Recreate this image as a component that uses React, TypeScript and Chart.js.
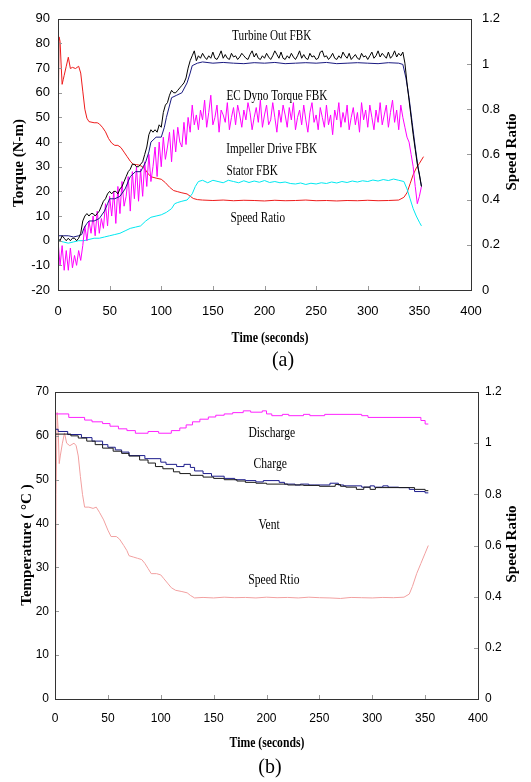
import React, { useEffect, useRef } from 'react';
import { Chart, registerables } from 'chart.js';
Chart.register(...registerables);

const SANS = "'Liberation Sans', Arial, sans-serif";
const SERIF = "'Liberation Serif', 'Times New Roman', serif";

// ---------------- Chart (a) data ----------------
const tFine = [0,2,4,6,8,10,12,14,16,18,20,22,24,26,28,30,32,34,36,38,40,42,44,46,48,50,52,54,56,58,60,62,64,66,68,70,72,74,76,78,80,82,84,86,88,90,92,94,96,98,100,102,104,106,108,110,112,114,116,118,120,122,124,126,128,130,132,134,136,138,140,142,144,146,148,150,152,154,156,158,160,162,164,166,168,170,172,174,176,178,180,182,184,186,188,190,192,194,196,198,200,202,204,206,208,210,212,214,216,218,220,222,224,226,228,230,232,234,236,238,240,242,244,246,248,250,252,254,256,258,260,262,264,266,268,270,272,274,276,278,280,282,284,286,288,290,292,294,296,298,300,302,304,306,308,310,312,314,316,318,320,322,324,326,328,330,332,334,336,338,340,342,344,346,348,350,352];

const turbineOut = [
  1, 0, 2, 1, 0, 1, 0, 1, 1, 0,
  1, 3, 8, 10, 11, 10, 11, 11, 10, 11,
  12, 14, 16, 17, 19, 20, 19, 20, 20, 19,
  21, 22, 24, 26, 28, 29, 31, 31, 30, 30,
  31, 32, 35, 38, 43, 45, 44, 45, 44, 47,
  46, 52, 55, 56, 59, 61, 60, 60, 61, 62,
  63, 64, 66, 70, 73, 75, 77, 73, 75, 74,
  76, 74.5, 73.5, 75, 74, 76.5, 74, 73.5, 75, 77,
  74, 75.5, 74, 73.5, 76, 74.5, 75, 73.5, 74.5, 76,
  75, 74, 73.5, 75.5, 77, 74.5, 76, 74, 73.5, 75,
  74, 76, 74.5, 73.5, 75, 77, 75.5, 74, 76.5, 74,
  73.5, 75, 74, 76, 74.5, 73.5, 75, 77, 74, 75.5,
  74, 73.5, 76, 74.5, 75, 73.5, 74, 76.5, 77, 74.5,
  75, 73.5, 74.5, 76, 74, 73.5, 75, 74, 76.5, 75,
  74, 76, 73.5, 74.5, 75.5, 74, 73.5, 76, 74.5, 75,
  73.5, 75, 76.5, 74, 75, 77, 74.5, 76, 75, 74,
  76.5, 74, 75, 77, 74.5, 76, 75, 76.5, 72, 64,
  57, 50, 43, 37, 31, 27, 22
];

const dynoTorque = [
  0, -10, -2, -12, -4, -12, -3, -11, -6, -10,
  -4, -8, -2, 6, 0, 8, 3, 10, 2, 12,
  3, 9, 5, 15, 6, 18, 10, 20, 7, 22,
  11, 24, 14, 18, 26, 12, 28, 17, 30, 16,
  29, 18, 32, 22, 35, 24, 30, 38, 26, 40,
  30, 42, 33, 38, 44, 32, 45, 36, 46, 40,
  38, 48, 39, 50, 44, 55, 47, 51, 45, 53,
  49, 57, 46, 52, 59, 47, 50, 55, 44, 53,
  51, 48, 56, 45, 50, 54, 47, 55, 51, 46,
  53, 49, 56, 52, 45, 50, 54, 48, 57, 46,
  51, 55, 47, 49, 56, 50, 44, 53, 48, 55,
  51, 46, 54, 49, 56, 45, 50, 53, 47, 55,
  49, 44, 52, 56, 48, 51, 45, 54, 50, 46,
  55, 47, 51, 43, 53, 49, 56, 46, 52, 48,
  55, 45, 50, 54, 47, 52, 44, 56, 49, 53,
  46, 55, 50, 45, 53, 48, 56, 47, 51, 55,
  46, 52, 57, 48, 53, 45, 55, 50, 46, 42,
  40, 35, 30, 22, 15, 18, 22
];

const tImpeller = [0,5,10,15,20,23,25,28,30,35,40,45,48,50,55,60,65,68,70,75,80,85,88,90,95,100,103,105,110,115,120,125,128,130,135,140,150,160,170,180,190,200,210,220,230,240,250,260,270,280,290,300,310,320,330,334,337,340,343,346,349,352];
const impellerDrive = [2,2,2,1.5,2,2.5,5,7,8,8,9,12,15,17,17,18,21,24,26,28,28,32,36,40,42,42,46,50,58,59,60,64,68,71,72,72.5,72,72.3,72,71.8,72.2,72,72.3,71.8,72,72.2,72,72.3,71.8,72,72.2,72,71.8,72.2,72,71.5,66,58,48,38,29,22];

const tStator = [0,5,10,15,20,25,30,35,40,45,50,55,60,65,70,75,80,85,90,95,100,105,110,113,116,120,125,130,133,136,140,145,150,155,160,165,170,175,180,185,190,195,200,205,210,215,220,225,230,235,240,245,250,255,260,265,270,275,280,285,290,295,300,305,310,315,320,325,330,335,338,341,344,347,350,352];
const statorFbk = [0,-0.5,-1,-0.5,0,0,0.5,1,1,1.5,2,2.5,3,4,5,5.5,6,8,9.5,10,10.5,11.5,13,15,15.5,16,16.5,19,22,24,24.5,23.5,24.5,24,23.5,24.5,24,23.5,24.3,23.6,24.2,23.7,24.4,23.6,24,23.5,23.8,23.2,23,23.4,22.8,23.3,23,23.5,23.2,23.8,23.4,24,23.6,24.2,23.8,24.3,24,24.6,24.2,24.8,24.4,25,24.5,24,21,17,13,10,7.5,6];

const tRatioA = [0,0.5,1,2,3,4,5,6,8,10,12,14,17,20,22,24,26,28,30,35,38,40,43,46,49,52,55,58,61,64,67,70,73,76,79,82,85,88,91,95,100,104,108,112,116,120,125,128,131,135,140,150,160,170,180,190,200,210,220,230,240,250,260,270,280,290,300,310,320,330,335,338,341,344,347,350,354];
const speedRatioA = [0,0.9,1.12,1.1,1.0,0.91,0.93,0.95,0.99,1.03,0.98,0.985,0.98,0.99,0.96,0.88,0.8,0.76,0.745,0.74,0.74,0.735,0.72,0.70,0.67,0.65,0.64,0.64,0.63,0.61,0.59,0.57,0.555,0.555,0.552,0.545,0.53,0.51,0.50,0.495,0.49,0.475,0.455,0.44,0.435,0.43,0.425,0.415,0.405,0.40,0.398,0.396,0.398,0.395,0.397,0.396,0.394,0.397,0.395,0.396,0.398,0.395,0.396,0.394,0.396,0.395,0.397,0.395,0.396,0.398,0.41,0.43,0.47,0.51,0.54,0.56,0.59];

// ---------------- Chart (b) data ----------------
const tDischarge = [0,13,28,35,45,52,60,68,76,88,98,110,118,124,130,137,145,152,160,168,178,185,196,200,205,215,221,235,241,255,290,296,346,350,353];
const discharge = [65.7,65.0,64.2,63.6,63.2,62.8,62.2,61.6,61.2,60.6,61.0,60.6,61.2,61.8,62.5,63.2,63.8,64.3,64.7,65.0,65.3,65.7,65.4,65.7,65.0,64.6,64.9,64.6,64.9,64.6,64.9,64.6,64.2,63.5,62.7];

const tCharge = [0,3,12,25,35,45,50,57,63,70,85,100,105,115,122,128,132,140,148,160,170,180,190,197,212,217,227,232,240,245,260,268,273,290,298,302,310,315,325,335,340,350,353];
const charge = [62.2,61.5,61.0,60.3,59.6,58.8,58.0,57.4,56.8,56.3,55.5,54.8,54.0,53.5,53.0,53.5,52.8,52.0,51.4,50.8,50.3,50.0,49.8,49.5,49.8,49.4,49.0,48.8,49.0,48.8,48.8,49.2,48.8,48.6,48.3,48.6,48.3,48.6,48.3,48.2,47.8,47.3,47.0];

const tVent = [0,15,22,30,38,45,55,63,70,80,88,95,102,112,118,128,140,150,160,172,180,190,200,220,235,250,265,270,275,285,292,298,303,310,340,350,353];
const vent = [60.8,60.4,60.0,59.5,58.8,58.0,57.2,56.5,56.0,55.4,54.5,53.8,53.0,52.5,51.8,51.4,51.0,50.6,50.3,50.0,49.7,49.4,49.2,49.0,48.8,48.7,48.5,48.9,48.5,48.3,47.8,48.3,47.8,48.2,48.2,47.8,47.5];

const tRatioB = [0,0.5,1,2,3,4,5,7,9,11,14,18,20,22,24,26,28,32,36,39,42,46,50,53,58,61,65,68,70,74,78,82,85,88,91,96,100,103,107,110,114,120,125,128,132,140,150,160,170,180,190,200,210,220,230,240,250,260,270,280,290,300,310,320,330,335,338,342,346,350,353];
const speedRatioB = [0,0.3,0.8,1.12,1.05,0.92,0.95,1.0,1.04,1.0,0.99,1.0,0.99,0.95,0.87,0.8,0.75,0.75,0.745,0.75,0.73,0.70,0.66,0.635,0.635,0.625,0.6,0.58,0.56,0.555,0.55,0.545,0.53,0.51,0.49,0.49,0.485,0.47,0.45,0.435,0.425,0.42,0.415,0.405,0.395,0.397,0.395,0.398,0.396,0.397,0.395,0.398,0.396,0.397,0.395,0.398,0.396,0.395,0.393,0.397,0.396,0.395,0.397,0.396,0.398,0.41,0.44,0.49,0.53,0.57,0.6];

// ---------------- axis ticks / labels ----------------
const timeTicks = { min: 0, max: 400, step: 50 };
const torqueTicks = { min: -20, max: 90, step: 10 };
const tempTicks = { min: 0, max: 70, step: 10 };
const ratioTicks = { min: 0, max: 1.2, step: 0.2 };

const notesA = [
  { text: 'Turbine Out FBK', x: 207, y: 82.9 },
  { text: 'EC Dyno Torque FBK', x: 212, y: 58.5 },
  { text: 'Impeller Drive FBK', x: 207, y: 37.0 },
  { text: 'Stator FBK', x: 188, y: 28.2 },
  { text: 'Speed Ratio', x: 193.5, y: 9.1 },
];
const notesB = [
  { text: 'Discharge', x: 205, y: 60.7 },
  { text: 'Charge', x: 203.5, y: 53.6 },
  { text: 'Vent', x: 202.5, y: 39.7 },
  { text: 'Speed Rtio', x: 207, y: 27.2 },
];

const pts = (xs: number[], ys: number[]) => xs.map((x, i) => ({ x, y: ys[i] }));

const decor = {
  id: 'decor',
  afterDraw(chart: any, _args: any, opts: any) {
    const { ctx, chartArea: a, scales } = chart;
    const sx = scales.x, sy = scales.y, sy1 = scales.y1;
    ctx.save();
    ctx.strokeStyle = '#999';
    ctx.lineWidth = 1;
    ctx.beginPath();
    sx.ticks.forEach((t: any) => {
      const p = Math.round(sx.getPixelForValue(t.value)) + 0.5;
      ctx.moveTo(p, a.bottom); ctx.lineTo(p, a.bottom - 4);
    });
    sy.ticks.forEach((t: any) => {
      const p = Math.round(sy.getPixelForValue(t.value)) + 0.5;
      ctx.moveTo(a.left, p); ctx.lineTo(a.left + 4, p);
    });
    sy1.ticks.forEach((t: any) => {
      const p = Math.round(sy1.getPixelForValue(t.value)) + 0.5;
      ctx.moveTo(a.right, p); ctx.lineTo(a.right - 4, p);
    });
    ctx.stroke();
    ctx.strokeStyle = '#333';
    ctx.strokeRect(Math.round(a.left) + 0.5, Math.round(a.top) + 0.5, Math.round(a.right - a.left), Math.round(a.bottom - a.top));

    ctx.fillStyle = '#000';
    ctx.textAlign = 'center';
    ctx.textBaseline = 'middle';
    for (const n of opts.notes) {
      ctx.save();
      ctx.translate(sx.getPixelForValue(n.x), sy.getPixelForValue(n.y));
      ctx.scale(0.8, 1);
      ctx.font = `${opts.noteSize}px ${SERIF}`;
      ctx.fillText(n.text, 0, 0);
      ctx.restore();
    }
    for (const t of opts.titles) {
      ctx.save();
      ctx.translate(t.x, t.y);
      if (t.rot) ctx.rotate(-Math.PI / 2);
      ctx.scale(t.sx || 1, 1);
      ctx.font = `${t.bold ? 'bold ' : ''}${t.size}px ${SERIF}`;
      ctx.fillText(t.text, 0, 0);
      ctx.restore();
    }
    ctx.restore();
  },
};

function makeConfig(cfg: any) {
  const fmtRatio = (v: any) => String(Math.round(Number(v) * 10) / 10);
  return {
    type: 'line',
    data: { datasets: cfg.datasets },
    plugins: [decor],
    options: {
      animation: false,
      responsive: false,
      events: [],
      layout: { padding: { top: cfg.top, left: 0, right: 0, bottom: 0 } },
      elements: { point: { radius: 0 }, line: { borderWidth: 1, tension: 0 } },
      plugins: {
        legend: { display: false },
        tooltip: { enabled: false },
        decor: { notes: cfg.notes, noteSize: cfg.noteSize, titles: cfg.titles },
      },
      scales: {
        x: {
          type: 'linear',
          min: timeTicks.min,
          max: timeTicks.max,
          grid: { display: false, drawTicks: false },
          border: { display: false },
          ticks: { stepSize: timeTicks.step, maxRotation: 0, autoSkip: false, padding: cfg.xPad, color: '#000', font: { family: SANS, size: cfg.tickSize } },
          afterFit: (s: any) => { s.height = cfg.xH; },
        },
        y: {
          type: 'linear',
          position: 'left',
          min: cfg.left.min,
          max: cfg.left.max,
          grid: { display: false, drawTicks: false },
          border: { display: false },
          ticks: { stepSize: cfg.left.step, autoSkip: false, padding: cfg.yPad, color: '#000', font: { family: SANS, size: cfg.tickSize } },
          afterFit: (s: any) => { s.width = cfg.yW; },
        },
        y1: {
          type: 'linear',
          position: 'right',
          min: ratioTicks.min,
          max: ratioTicks.max,
          grid: { display: false, drawTicks: false },
          border: { display: false },
          ticks: { stepSize: ratioTicks.step, autoSkip: false, padding: cfg.y1Pad, color: '#000', font: { family: SANS, size: cfg.tickSize }, callback: fmtRatio },
          afterFit: (s: any) => { s.width = cfg.y1W; },
        },
      },
    },
  };
}

const configA = () => makeConfig({
  top: 14, xH: 85, yW: 58, y1W: 60, xPad: 14, yPad: 8, y1Pad: 11, tickSize: 13, noteSize: 14,
  left: torqueTicks,
  notes: notesA,
  titles: [
    { text: 'Torque (N-m)', x: 19, y: 163, rot: true, bold: true, size: 15 },
    { text: 'Speed Ratio', x: 512, y: 152, rot: true, bold: true, size: 15 },
    { text: 'Time (seconds)', x: 270, y: 338, bold: true, size: 15, sx: 0.8 },
    { text: '(a)', x: 283, y: 360, size: 21, sx: 0.95 },
  ],
  datasets: [
    { data: pts(tFine, turbineOut), borderColor: '#000000', yAxisID: 'y' },
    { data: pts(tImpeller, impellerDrive), borderColor: '#1a1a80', yAxisID: 'y' },
    { data: pts(tFine, dynoTorque), borderColor: '#ff00ff', yAxisID: 'y' },
    { data: pts(tStator, statorFbk), borderColor: '#00e8f0', yAxisID: 'y' },
    { data: pts(tRatioA, speedRatioA), borderColor: '#ee1c1c', yAxisID: 'y1' },
  ],
});

const configB = () => makeConfig({
  top: 17, xH: 83, yW: 55, y1W: 53, xPad: 12, yPad: 6, y1Pad: 7, tickSize: 12, noteSize: 14.5,
  left: tempTicks,
  notes: notesB,
  titles: [
    { text: 'Temperature ( °C )', x: 27, y: 170, rot: true, bold: true, size: 15 },
    { text: 'Speed Ratio', x: 512, y: 169, rot: true, bold: true, size: 15 },
    { text: 'Time (seconds)', x: 267, y: 368, bold: true, size: 15, sx: 0.78 },
    { text: '(b)', x: 270, y: 392, size: 21, sx: 0.95 },
  ],
  datasets: [
    { data: pts(tVent, vent), borderColor: '#1a1a1a', stepped: 'after', yAxisID: 'y' },
    { data: pts(tCharge, charge), borderColor: '#1c1c8c', stepped: 'after', yAxisID: 'y' },
    { data: pts(tDischarge, discharge), borderColor: '#ff22ff', stepped: 'after', yAxisID: 'y' },
    { data: pts(tRatioB, speedRatioB), borderColor: '#f2a0a0', yAxisID: 'y1' },
  ],
});

function ChartCanvas({ top, height, make }: { top: number; height: number; make: () => any }) {
  const ref = useRef<HTMLCanvasElement | null>(null);
  useEffect(() => {
    if (!ref.current) return;
    const c = new Chart(ref.current, make());
    return () => c.destroy();
  }, []);
  return (
    <canvas
      ref={ref}
      width={531}
      height={height}
      style={{ position: 'absolute', left: 0, top, width: 531, height, display: 'block' }}
    />
  );
}

export default function App() {
  return (
    <div style={{ position: 'absolute', left: 0, top: 0, width: 531, height: 782, background: '#fff' }}>
      <ChartCanvas top={0} height={375} make={configA} />
      <ChartCanvas top={375} height={407} make={configB} />
    </div>
  );
}
